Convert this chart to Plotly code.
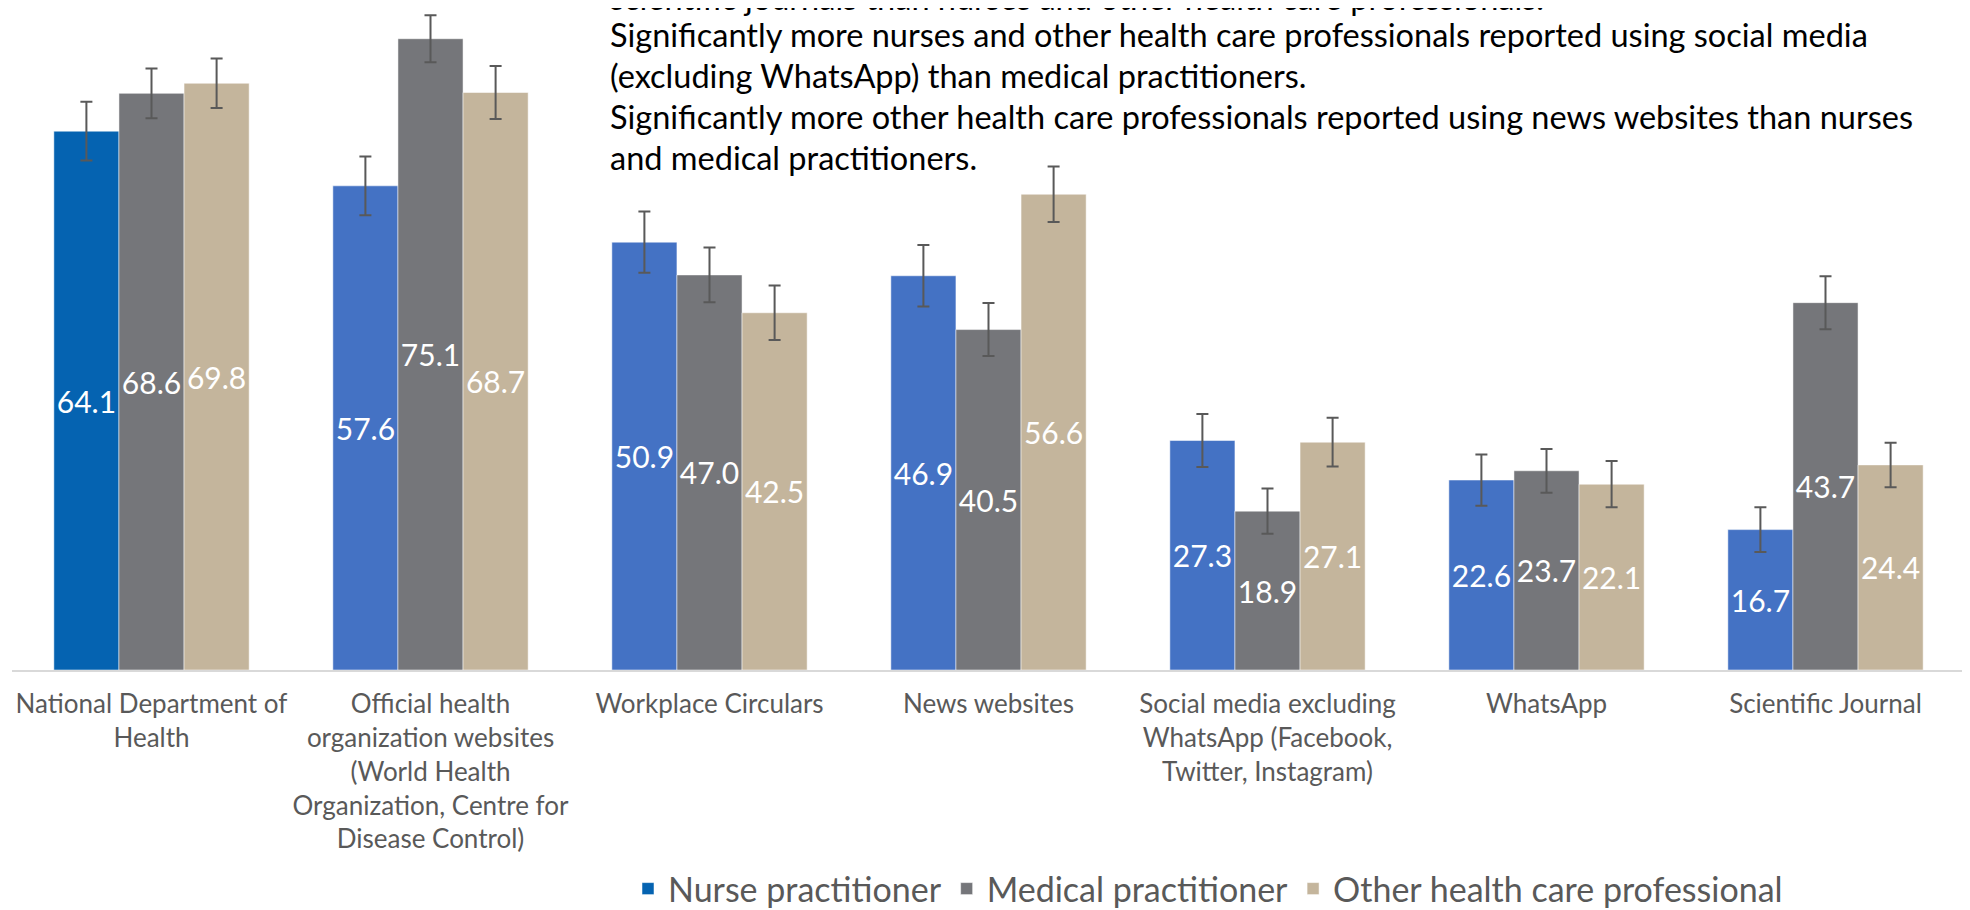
import plotly.graph_objects as go

# survey data: % of respondents using each information source
categories = [
    "National Department of<br>Health",
    "Official health<br>organization websites<br>(World Health<br>Organization, Centre for<br>Disease Control)",
    "Workplace Circulars",
    "News websites",
    "Social media excluding<br>WhatsApp (Facebook,<br>Twitter, Instagram)",
    "WhatsApp",
    "Scientific Journal",
]
nurse = [64.1, 57.6, 50.9, 46.9, 27.3, 22.6, 16.7]
medical = [68.6, 75.1, 47.0, 40.5, 18.9, 23.7, 43.7]
other = [69.8, 68.7, 42.5, 56.6, 27.1, 22.1, 24.4]

nurse_err = [3.5, 3.5, 3.65, 3.65, 3.15, 3.05, 2.65]
medical_err = [2.95, 2.8, 3.25, 3.15, 2.7, 2.6, 3.15]
other_err = [2.95, 3.15, 3.25, 3.3, 2.9, 2.75, 2.65]

notes = [
    "scientific journals than nurses and other health care professionals.",
    "Significantly more nurses and other health care professionals reported using social media",
    "(excluding WhatsApp) than medical practitioners.",
    "Significantly more other health care professionals reported using news websites than nurses",
    "and medical practitioners.",
]

W, H = 1970, 910
left, right = 4, 13
top, bottom = 0, 239
plot_w = W - left - right
plot_h = H - top - bottom
px_per_unit = 8.52

FONT = "Lato"
ERR = "#595959"

nurse_colors = ["#0563B1"] + ["#4472C4"] * (len(nurse) - 1)

fig = go.Figure()
series = [
    ("Nurse practitioner", nurse, nurse_err, nurse_colors),
    ("Medical practitioner", medical, medical_err, "#75767A"),
    ("Other health care professional", other, other_err, "#C4B59C"),
]
for name, vals, errs, col in series:
    fig.add_trace(go.Bar(
        x=categories, y=vals, name=name,
        marker=dict(color=col, line=dict(color="rgba(255,255,255,0.5)", width=1)),
        error_y=dict(type="data", array=errs, color=ERR, thickness=2, width=6),
        texttemplate="%{y:.1f}", textposition="inside", insidetextanchor="middle",
        textangle=0, constraintext="none",
        textfont=dict(family=FONT, size=30, color="white"),
    ))

# text lines at the top (first one cropped by the image edge)
line_y = [-11, 27, 68, 110, 152]
for txt, py in zip(notes, line_y):
    fig.add_annotation(
        text=txt, xref="paper", yref="paper",
        x=(600 - left) / plot_w, y=1 - (py - top) / plot_h,
        xanchor="left", yanchor="middle", showarrow=False,
        font=dict(family=FONT, size=32.5, color="#000000"),
    )

fig.update_layout(
    width=W, height=H,
    margin=dict(l=left, r=right, t=top, b=bottom),
    barmode="group", bargap=0.3, bargroupgap=0,
    plot_bgcolor="white", paper_bgcolor="white",
    font=dict(family=FONT, color="#595959"),
    showlegend=True,
    legend=dict(
        orientation="h", x=(1200 - left) / plot_w, xanchor="center",
        y=-(893 - 671) / plot_h, yanchor="middle",
        font=dict(family=FONT, size=34, color="#595959"),
        itemwidth=30, traceorder="normal",
    ),
    xaxis=dict(
        showline=True, linecolor="#D9D9D9", linewidth=2,
        showgrid=False, ticks="", tickfont=dict(family=FONT, size=26, color="#595959"),
        ticklabelstandoff=10,
    ),
    yaxis=dict(visible=False, range=[0, plot_h / px_per_unit], showgrid=False),
)

fig.write_html("out.html")
